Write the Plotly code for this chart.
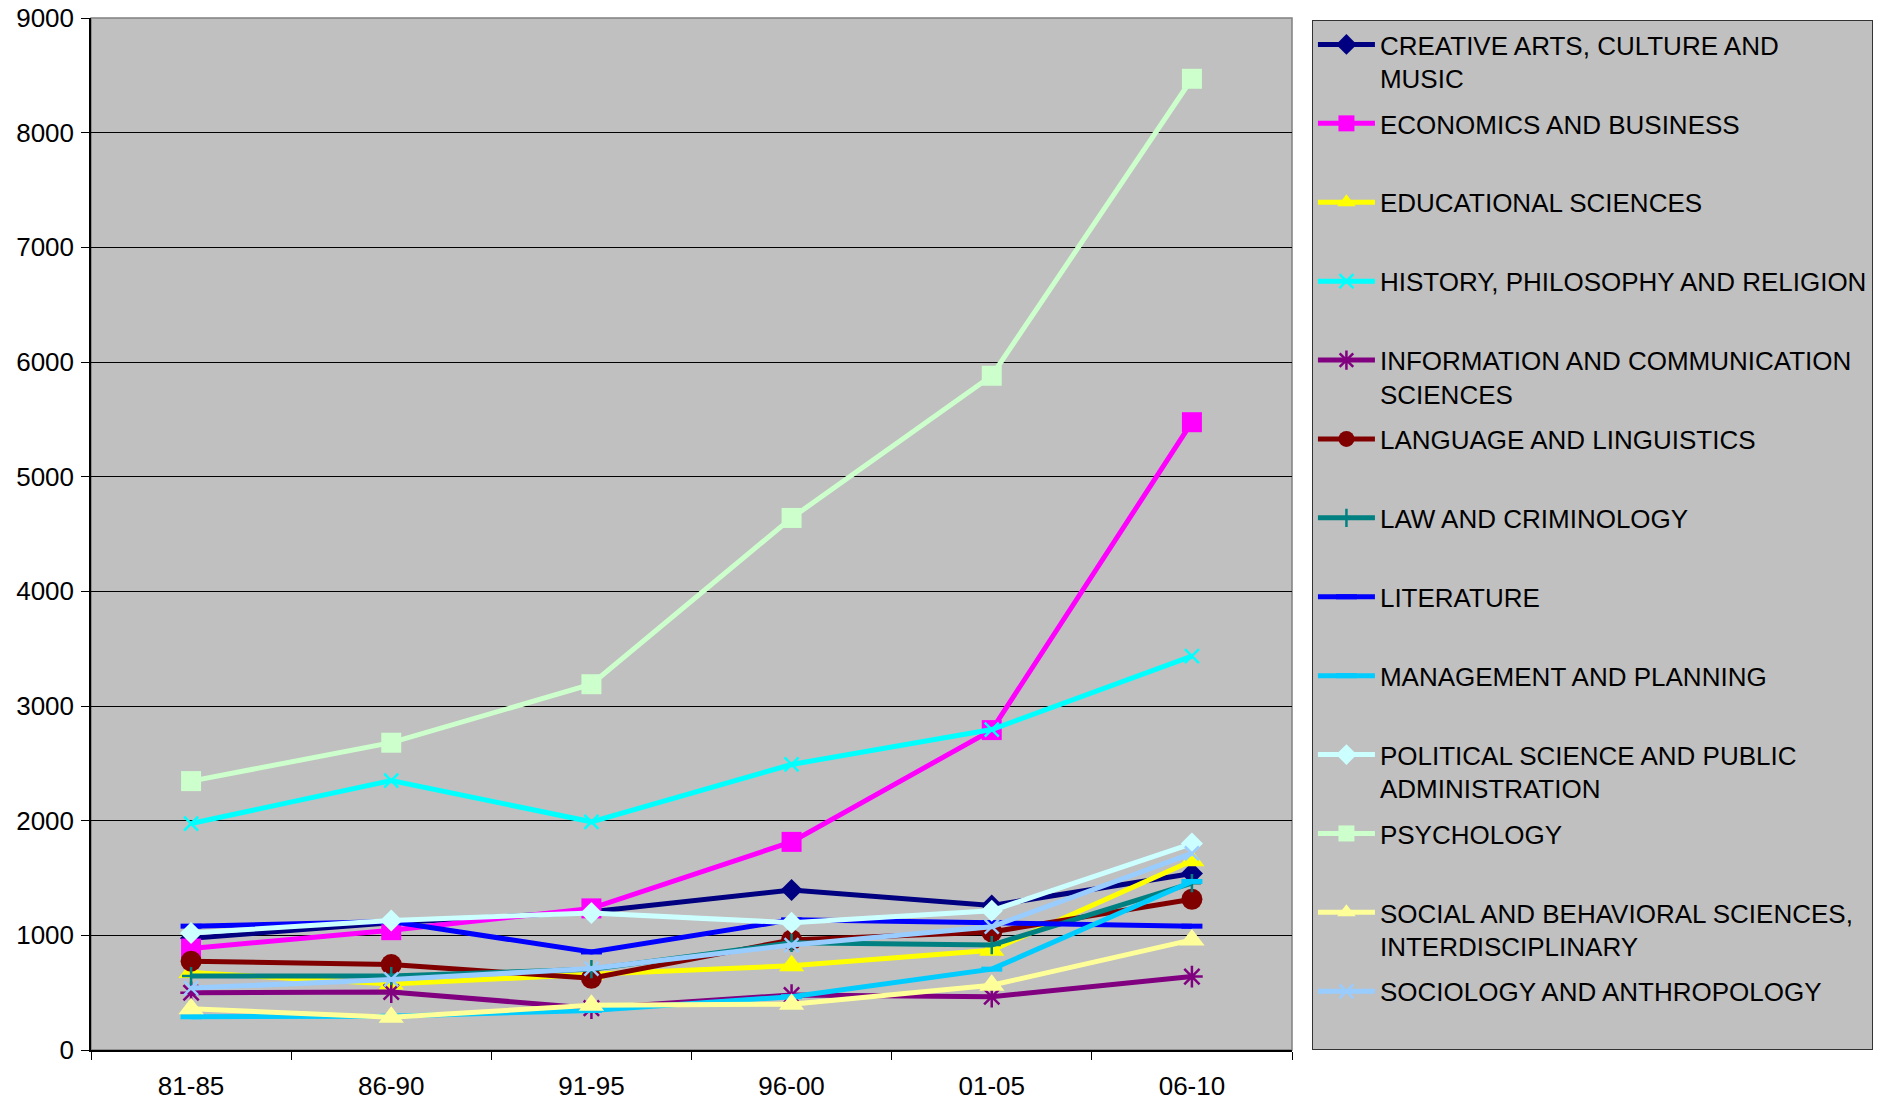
import plotly.graph_objects as go

periods = ["81-85", "86-90", "91-95", "96-00", "01-05", "06-10"]

series_names = [
    "CREATIVE ARTS, CULTURE AND<br>MUSIC",
    "ECONOMICS AND BUSINESS",
    "EDUCATIONAL SCIENCES",
    "HISTORY, PHILOSOPHY AND RELIGION",
    "INFORMATION AND COMMUNICATION<br>SCIENCES",
    "LANGUAGE AND LINGUISTICS",
    "LAW AND CRIMINOLOGY",
    "LITERATURE",
    "MANAGEMENT AND PLANNING",
    "POLITICAL SCIENCE AND PUBLIC<br>ADMINISTRATION",
    "PSYCHOLOGY",
    "SOCIAL AND BEHAVIORAL SCIENCES,<br>INTERDISCIPLINARY",
    "SOCIOLOGY AND ANTHROPOLOGY",
]

creative_arts = [975, 1110, 1205, 1395, 1260, 1540]
economics = [885, 1045, 1235, 1815, 2790, 5475]
educational = [675, 575, 660, 735, 870, 1650]
history = [1975, 2350, 1990, 2490, 2795, 3435]
information = [500, 505, 365, 480, 465, 640]
language = [775, 745, 625, 960, 1030, 1315]
law = [645, 645, 705, 935, 915, 1455]
literature = [1080, 1120, 855, 1135, 1110, 1080]
management = [290, 295, 345, 465, 705, 1470]
political = [1020, 1130, 1195, 1110, 1215, 1800]
psychology = [2345, 2680, 3190, 4640, 5880, 8470]
social_behavioral = [360, 285, 390, 400, 565, 960]
sociology = [540, 615, 710, 915, 1075, 1715]

values = [creative_arts, economics, educational, history, information, language,
          law, literature, management, political, psychology, social_behavioral,
          sociology]

# colour, marker symbol, marker size, outline width (for the line-drawn symbols)
styles = [
    ("#000080", "diamond", 17, 0),
    ("#FF00FF", "square", 20, 0),
    ("#FFFF00", "triangle-up", 22, 0),
    ("#00FFFF", "x-thin", 14, 2.5),
    ("#800080", "asterisk", 18, 2.5),
    ("#800000", "circle", 21, 0),
    ("#008080", "cross-thin", 13, 2.5),
    ("#0000FF", "line-ew", 15, 5),
    ("#00CCFF", "line-ew", 15, 5),
    ("#CCFFFF", "diamond", 17, 0),
    ("#CCFFCC", "square", 20, 0),
    ("#FFFF99", "triangle-up", 22, 0),
    ("#99CCFF", "x-thin", 14, 2.5),
]

FONT = "Arial, 'Liberation Sans', sans-serif"
FS = 26

fig = go.Figure()
for i, (name, ys, (color, symbol, size, olw)) in enumerate(zip(series_names, values, styles)):
    # every legend entry takes two text lines so the entries are evenly spaced
    label = name if "<br>" in name else name + "<br>\u00a0"
    fig.add_trace(go.Scatter(
        x=periods, y=ys, name=label, mode="lines+markers",
        legendgroup=f"g{i}",
        line=dict(color=color, width=5),
        marker=dict(symbol=symbol, size=size, color=color,
                    line=dict(color=color, width=olw)),
    ))

# plot-area frame
fig.add_shape(type="rect", xref="paper", yref="paper", x0=0, y0=0, x1=1, y1=1,
              line=dict(color="#808080", width=1.5), layer="below")

fig.update_layout(
    width=1881, height=1101,
    margin=dict(l=91, r=589, t=18, b=51, autoexpand=False),
    paper_bgcolor="white",
    plot_bgcolor="#C0C0C0",
    font=dict(family=FONT, size=FS, color="black"),
    showlegend=True,
    legend=dict(
        x=1.0166, y=0.998, xanchor="left", yanchor="top",
        bgcolor="#C0C0C0", bordercolor="#333333", borderwidth=1,
        font=dict(family=FONT, size=FS, color="black"),
        tracegroupgap=8.3, valign="top", itemwidth=57,
    ),
    xaxis=dict(
        type="category", range=[-0.5, 5.5],
        showline=True, linecolor="black", linewidth=1.5,
        ticks="outside", tickson="boundaries", ticklen=8, tickcolor="black",
        showgrid=False, zeroline=False, ticklabelstandoff=12,
        tickfont=dict(family=FONT, size=FS, color="black"),
    ),
    yaxis=dict(
        range=[0, 9000], dtick=1000,
        showline=True, linecolor="black", linewidth=1.5,
        ticks="outside", ticklen=8, tickcolor="black",
        showgrid=True, gridcolor="black", gridwidth=1,
        zeroline=False, ticklabelstandoff=2,
        tickfont=dict(family=FONT, size=FS, color="black"),
    ),
)

fig.write_html("out.html")
